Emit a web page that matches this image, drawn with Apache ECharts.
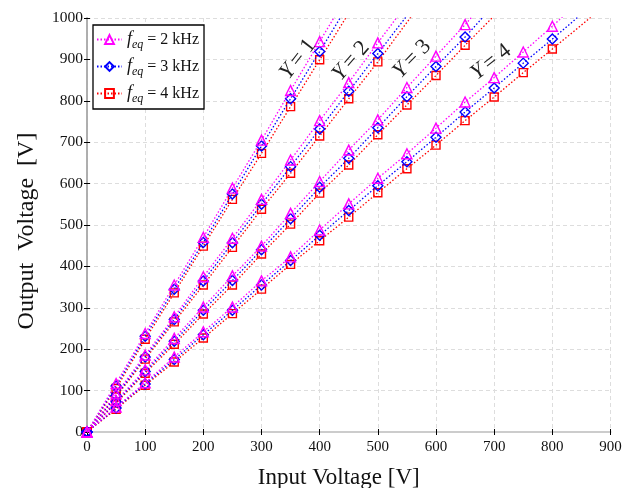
<!DOCTYPE html>
<html><head><meta charset="utf-8">
<script src="https://cdn.jsdelivr.net/npm/echarts@6/dist/echarts.min.js"></script>
<style>html,body{margin:0;padding:0;background:#fff}#c{width:635px;height:488px}</style>
</head><body><div id="c"></div>
<script>
// Input voltages for each gain curve (last value is an unmarked extension beyond the plot top)
const xY1 = [0, 50, 100, 150, 200, 250, 300, 350, 400, 500];
const xY2 = [0, 50, 100, 150, 200, 250, 300, 350, 400, 450, 500, 600];
const xY3 = [0, 50, 100, 150, 200, 250, 300, 350, 400, 450, 500, 550, 600, 650, 750];
const xY4 = [0, 50, 100, 150, 200, 250, 300, 350, 400, 450, 500, 550, 600, 650, 700, 750, 800, 900];

// Output voltages, f_eq = 2 kHz
const y1_2k = [0, 117, 238, 355, 470, 589, 705, 825, 943, 1178];
const y2_2k = [0, 92, 186, 278, 375, 468, 562, 657, 752, 844, 940, 1128];
const y3_2k = [0, 76, 150, 226, 302, 377, 449, 528, 605, 681, 754, 832, 908, 984, 1140];
const y4_2k = [0, 60, 119, 181, 242, 302, 365, 423, 488, 551, 613, 672, 734, 797, 856, 918, 980, 1110];
// f_eq = 3 kHz
const y1_3k = [0, 111, 231, 345, 458, 575, 691, 805, 919, 1149];
const y2_3k = [0, 88, 181, 272, 365, 457, 550, 641, 732, 823, 914, 1097];
const y3_3k = [0, 73, 146, 219, 294, 366, 440, 515, 591, 661, 735, 810, 883, 954, 1110];
const y4_3k = [0, 58, 116, 175, 235, 294, 355, 414, 475, 535, 595, 653, 712, 773, 831, 891, 949, 1070];
// f_eq = 4 kHz
const y1_4k = [0, 105, 224, 336, 449, 562, 673, 786, 899, 1124];
const y2_4k = [0, 85, 176, 266, 355, 446, 538, 625, 715, 805, 894, 1085];
const y3_4k = [0, 70, 142, 212, 285, 355, 430, 502, 577, 645, 718, 790, 861, 934, 1077];
const y4_4k = [0, 55, 113, 169, 227, 286, 345, 405, 462, 519, 578, 636, 693, 752, 809, 868, 925, 1041];

const seriesNames = ['f_eq = 2 kHz', 'f_eq = 3 kHz', 'f_eq = 4 kHz'];
const gainLabels = ['1', '2', '3', '4'];

const styles = [
  {color: '#ff00ff', symbol: 'triangle', size: 10},
  {color: '#0000ff', symbol: 'diamond', size: 10},
  {color: '#ff0000', symbol: 'rect', size: 8}
];
const xs = [xY1, xY2, xY3, xY4];
const ys = [
  [y1_2k, y2_2k, y3_2k, y4_2k],
  [y1_3k, y2_3k, y3_3k, y4_3k],
  [y1_4k, y2_4k, y3_4k, y4_4k]
];

const series = [];
for (let f = 0; f < 3; f++) {
  for (let g = 0; g < 4; g++) {
    const xv = xs[g], yv = ys[f][g];
    const data = xv.map((x, i) => i === xv.length - 1
      ? {value: [x, yv[i]], symbol: 'none'}
      : [x, yv[i]]);
    const st = styles[f];
    series.push({
      name: seriesNames[f],
      type: 'line',
      data: data,
      symbol: st.symbol,
      symbolSize: st.size,
      showAllSymbol: true,
      clip: true,
      z: 3 - f,
      lineStyle: {color: st.color, width: 1.3, type: [1.5, 2]},
      itemStyle: {color: 'rgba(255,255,255,0)', borderColor: st.color, borderWidth: 1.4},
      emphasis: {disabled: true},
      animation: false
    });
  }
}

const serif = 'Liberation Serif';
const chart = echarts.init(document.getElementById('c'));
const legendFmt = n => {
  const m = n.match(/= (.*)$/);
  return '{f|f}{sub|eq}{t| = ' + m[1] + '}';
};

const ycenters = [[298, 59, 52], [351, 61, 49], [412, 59, 46], [491, 62, 38]];
const graphics = gainLabels.map((g, i) => ({
  type: 'text',
  x: ycenters[i][0], y: ycenters[i][1],
  rotation: ycenters[i][2] * Math.PI / 180,
  style: {
    text: '{i|Y} {n|= ' + g + '}',
    align: 'center', verticalAlign: 'middle',
    rich: {
      i: {fontFamily: serif, fontStyle: 'italic', fontSize: 22, fill: '#222'},
      n: {fontFamily: serif, fontSize: 22, fill: '#222'}
    }
  },
  z: 10
}));

chart.setOption({
  animation: false,
  backgroundColor: '#fff',
  grid: {left: 87, right: 24.5, top: 18, bottom: 56, outerBoundsMode: 'none', containLabel: false},
  legend: {
    data: seriesNames,
    left: 93, top: 25,
    orient: 'vertical',
    backgroundColor: '#fff',
    borderColor: '#000', borderWidth: 1.3, borderRadius: 0,
    padding: [3, 5, 4, 3],
    itemGap: 4,
    itemWidth: 25, itemHeight: 11,
    formatter: legendFmt,
    textStyle: {
      fontFamily: serif, fontSize: 16, color: '#111', lineHeight: 22,
      rich: {
        f: {fontFamily: serif, fontStyle: 'italic', fontSize: 18, color: '#111', lineHeight: 22},
        sub: {fontFamily: serif, fontStyle: 'italic', fontSize: 12, color: '#111', lineHeight: 22, padding: [11, 0, 0, 0]},
        t: {fontFamily: serif, fontSize: 16, color: '#111', lineHeight: 22}
      }
    }
  },
  xAxis: [{
    type: 'value', min: 0, max: 900, interval: 100,
    name: 'Input Voltage [V]', nameLocation: 'middle', nameGap: 34,
    nameTextStyle: {fontFamily: serif, fontSize: 23, color: '#111', padding: [0, 20, 0, 0]},
    axisLine: {show: true, onZero: false, lineStyle: {color: '#aaa', width: 1.5}},
    axisTick: {show: true, inside: true, length: 3, lineStyle: {color: '#000'}},
    axisLabel: {fontFamily: serif, fontSize: 15, color: '#111', margin: 8, formatter: v => String(v)},
    splitLine: {show: true, lineStyle: {color: '#ddd', type: [4, 3], width: 1}}
  }, {
    type: 'value', min: 0, max: 900, interval: 100, position: 'top',
    axisLine: {show: true, lineStyle: {color: '#ccc', width: 2}},
    axisTick: {show: true, inside: true, length: 3, lineStyle: {color: '#000'}},
    axisLabel: {show: false}, splitLine: {show: false}
  }],
  yAxis: [{
    type: 'value', min: 0, max: 1000, interval: 100,
    name: 'Output\u2002Voltage\u2002[V]', nameLocation: 'middle', nameGap: 48,
    nameTextStyle: {fontFamily: serif, fontSize: 24, color: '#111', padding: [0, 12, 0, 0]},
    axisLine: {show: true, onZero: false, lineStyle: {color: '#aaa', width: 1.5}},
    axisTick: {show: true, inside: true, length: 3, lineStyle: {color: '#000'}},
    axisLabel: {fontFamily: serif, fontSize: 15.5, color: '#111', margin: 4, formatter: v => String(v)},
    splitLine: {show: true, lineStyle: {color: '#ddd', type: [4, 3], width: 1}}
  }, {
    type: 'value', min: 0, max: 1000, interval: 100, position: 'right',
    axisLine: {show: true, lineStyle: {color: '#aaa', width: 1.5}},
    axisTick: {show: true, inside: true, length: 3, lineStyle: {color: '#000'}},
    axisLabel: {show: false}, splitLine: {show: false}
  }],
  graphic: graphics,
  series: series
});
</script>
</body></html>
